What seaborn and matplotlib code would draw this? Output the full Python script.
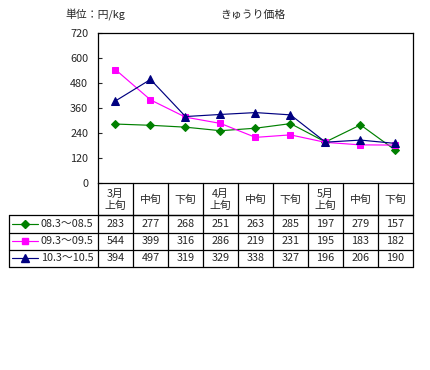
import matplotlib
matplotlib.use("Agg")
import matplotlib.pyplot as plt
import seaborn as sns
import pandas as pd

periods = ["3月\n上旬", "中旬", "下旬", "4月\n上旬", "中旬", "下旬", "5月\n上旬", "中旬", "下旬"]
series_names = ["08.3〜08.5", "09.3〜09.5", "10.3〜10.5"]
s08 = [283, 277, 268, 251, 263, 285, 197, 279, 157]
s09 = [544, 399, 316, 286, 219, 231, 195, 183, 182]
s10 = [394, 497, 319, 329, 338, 327, 196, 206, 190]
yticks = [0, 120, 240, 360, 480, 600, 720]

colors = ["#008000", "#FF00FF", "#000080"]
markers = ["D", "s", "^"]
msizes = [4.2, 5, 5.8]

sns.set_style("white")
plt.rcParams['font.family'] = ['Noto Sans CJK JP', 'DejaVu Sans']

W, H = 431, 370
fig = plt.figure(figsize=(W / 100, H / 100), dpi=100)
ax = fig.add_axes([98 / W, 1 - 183 / H, 315 / W, 150 / H])

all_vals = [s08, s09, s10]
df = pd.DataFrame({
    "pos": list(range(len(periods))) * 3,
    "value": s08 + s09 + s10,
    "series": [n for n in series_names for _ in periods],
})

for name, c, m, ms in zip(series_names, colors, markers, msizes):
    sns.lineplot(data=df[df["series"] == name], x="pos", y="value", color=c,
                 marker=m, markersize=ms, markeredgecolor=c, linewidth=0.85,
                 ax=ax, legend=False)

ax.set_xlim(-0.5, len(periods) - 0.5)
ax.set_ylim(0, 720)
ax.set_yticks(yticks)
ax.set_xticks([])
ax.set_xlabel("")
ax.set_ylabel("")
ax.tick_params(axis='y', direction='in', length=3, width=0.8, labelsize=7.8, pad=7, left=True)
for sp in ax.spines.values():
    sp.set_color("black")
    sp.set_linewidth(0.9)

# overlay in pixel coordinates for titles and data table
ov = fig.add_axes([0, 0, 1, 1])
ov.set_xlim(0, W)
ov.set_ylim(H, 0)
ov.axis("off")

ov.text(65, 15, "単位：円/kg", fontsize=7.8, va="center", ha="left")
ov.text(220, 15, "きゅうり価格", fontsize=7.8, va="center", ha="left")

x0, cw = 98, 35
xr = x0 + cw * len(periods)
rows_y = [183, 215, 232.5, 250, 266.5]
lw = 0.9
# header row
ov.plot([x0, xr], [rows_y[1], rows_y[1]], color="black", lw=lw)
for i in range(len(periods) + 1):
    ov.plot([x0 + cw * i, x0 + cw * i], [rows_y[0], rows_y[-1]], color="black", lw=lw)
for y in rows_y[1:]:
    ov.plot([9, xr], [y, y], color="black", lw=lw)
ov.plot([9, 9], [rows_y[1], rows_y[-1]], color="black", lw=lw)

for i, p in enumerate(periods):
    ov.text(x0 + cw * i + cw / 2, (rows_y[0] + rows_y[1]) / 2 + 1, p, fontsize=7.8,
            ha="center", va="center", linespacing=1.2)

for r, (name, vals, c, m, ms) in enumerate(zip(series_names, all_vals, colors, markers, msizes)):
    yc = (rows_y[r + 1] + rows_y[r + 2]) / 2
    ov.plot([12, 38], [yc, yc], color=c, lw=0.85)
    ov.plot([25], [yc], marker=m, color=c, markersize=ms, markeredgecolor=c)
    ov.text(41, yc, name, fontsize=7.8, ha="left", va="center")
    for i, v in enumerate(vals):
        ov.text(x0 + cw * i + cw / 2, yc, str(v), fontsize=7.8, ha="center", va="center")

fig.savefig("out.png", dpi=100)
